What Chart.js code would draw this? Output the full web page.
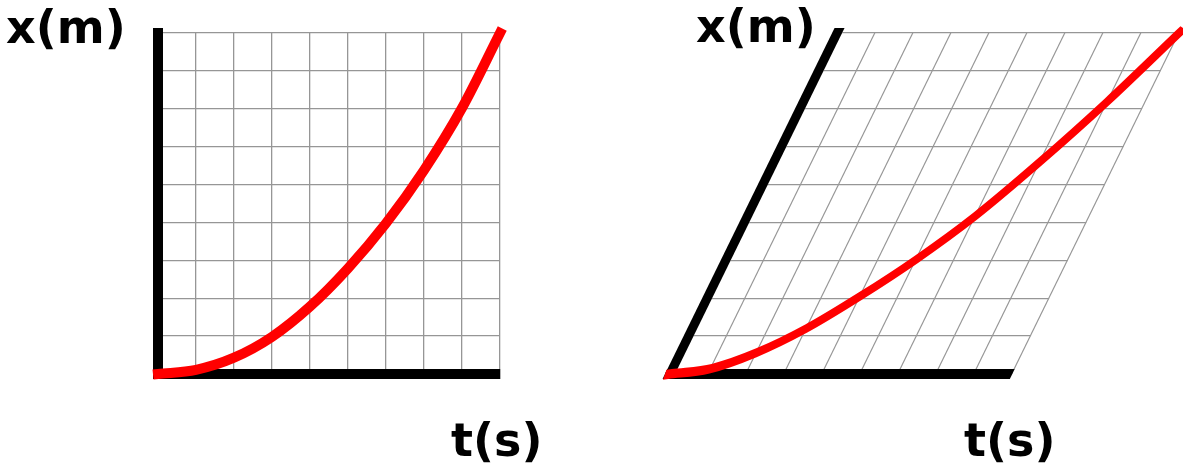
<!DOCTYPE html>
<html>
<head>
<meta charset="utf-8">
<script src="https://cdn.jsdelivr.net/npm/chart.js@4"></script>
<style>
  html, body { margin: 0; padding: 0; background: #fff; }
  body { width: 1183px; height: 474px; position: relative; overflow: hidden; }
  .panel { position: absolute; top: 0; height: 474px; }
  #left { left: 0; width: 590px; }
  #right { left: 590px; width: 593px; }
</style>
</head>
<body>
<div class="panel" id="left"><canvas id="chart-left" width="590" height="474"></canvas></div>
<div class="panel" id="right"><canvas id="chart-right" width="593" height="474"></canvas></div>
<script>
// time (s) along the horizontal axis
const times = [0, 1, 2, 3, 4, 5, 6, 7, 8, 9];
// position (m)
const positionLeft = [0, 0.11, 0.43, 0.98, 1.78, 2.79, 3.98, 5.38, 7.02, 9.0];
// position (m)
const positionRight = [0, 0.14, 0.56, 1.2, 2.05, 3.02, 4.17, 5.6, 7.2, 9.0];
const axisMin = 0;
const axisMax = 9;

const gridColor = '#969696';
const labelFont = 'bold 46px "DejaVu Sans", sans-serif';

// shears the drawing for the slanted graph, then writes the axis names
const figurePlugin = {
  id: 'figure',
  beforeDraw(chart, args, opts) {
    const ctx = chart.ctx;
    const area = chart.chartArea;
    ctx.save();
    if (opts.shear) {
      ctx.translate(area.left, area.bottom);
      ctx.transform(1, 0, -opts.shear, 1, 0, 0);
      ctx.translate(-area.left, -area.bottom);
    }
  },
  afterDraw(chart, args, opts) {
    const ctx = chart.ctx;
    ctx.restore();
    ctx.save();
    ctx.font = labelFont;
    ctx.fillStyle = '#000';
    ctx.textBaseline = 'middle';
    ctx.textAlign = 'left';
    (opts.labels || []).forEach(function (l) {
      ctx.fillText(l.text, l.x, l.y);
    });
    ctx.restore();
  }
};

function scaleOpts() {
  return {
    type: 'linear',
    min: axisMin,
    max: axisMax,
    ticks: { display: false, stepSize: 1 },
    grid: { color: gridColor, lineWidth: 1.3, drawTicks: false },
    border: { color: '#000', width: 10 }
  };
}

function makeChart(id, values, padding, shear, labels) {
  return new Chart(document.getElementById(id), {
    type: 'line',
    data: {
      datasets: [{
        data: times.map(function (t, i) { return { x: t, y: values[i] }; }),
        borderColor: '#ff0000',
        borderWidth: 10,
        borderCapStyle: 'square',
        cubicInterpolationMode: 'monotone',
        pointRadius: 0,
        fill: false,
        clip: false
      }]
    },
    options: {
      responsive: false,
      animation: false,
      layout: { padding: padding },
      scales: { x: scaleOpts(), y: scaleOpts() },
      plugins: {
        legend: { display: false },
        tooltip: { enabled: false },
        figure: { shear: shear, labels: labels }
      }
    },
    plugins: [figurePlugin]
  });
}

makeChart('chart-left', positionLeft,
  { left: 158, top: 33, right: 90, bottom: 100 }, 0,
  [{ text: 'x(m)', x: 6, y: 31 }, { text: 't(s)', x: 451, y: 444 }]);

makeChart('chart-right', positionRight,
  { left: 80, top: 33, right: 171, bottom: 100 }, 0.49,
  [{ text: 'x(m)', x: 106, y: 30 }, { text: 't(s)', x: 374, y: 444 }]);
</script>
</body>
</html>
